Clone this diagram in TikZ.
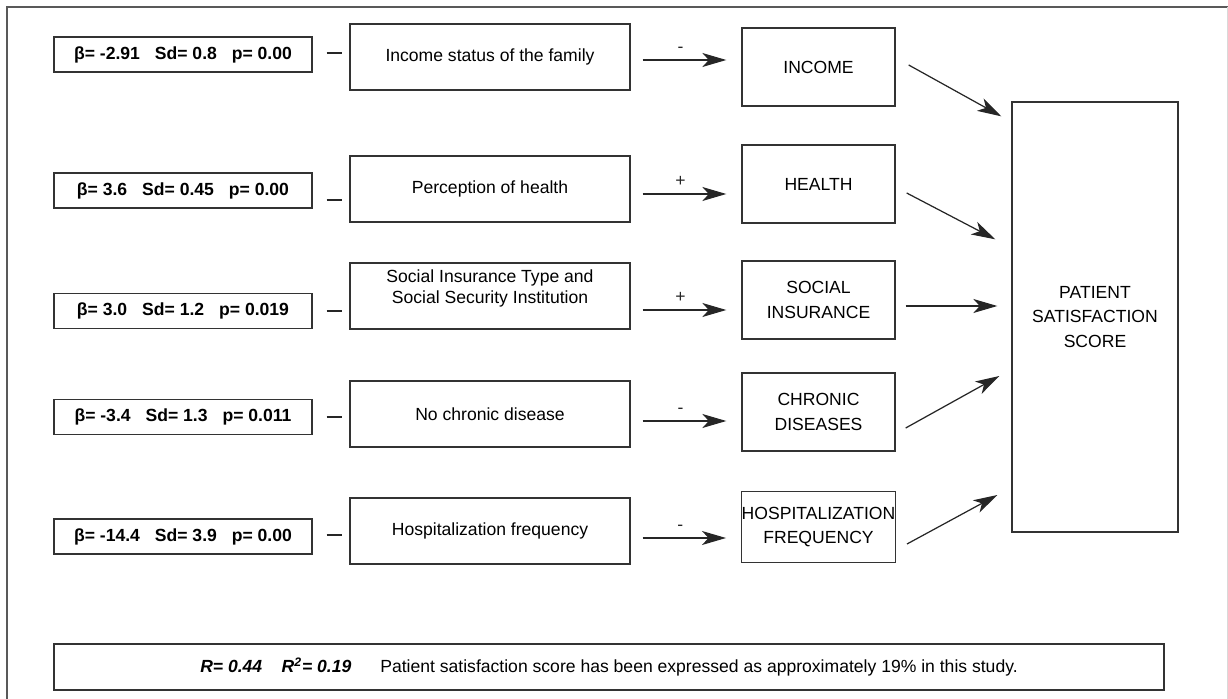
\documentclass[tikz,border=0pt]{standalone}
\usepackage{fontspec}
\setmainfont{Liberation Sans}
\usetikzlibrary{arrows.meta,calc}

\begin{document}
\begin{tikzpicture}[
  x=0.02cm, y=-0.02cm,
  every node/.style={font=\fontsize{10}{12}\selectfont},
  statbox/.style={rectangle, draw=black!80, line width=0.8pt, minimum width=5.16cm, minimum height=0.7cm, inner sep=0pt, font=\fontsize{10}{12}\selectfont\bfseries},
  factor/.style={rectangle, draw=black!80, line width=0.8pt, minimum width=5.6cm, minimum height=1.32cm, inner sep=0pt, align=center},
  varbox/.style={rectangle, draw=black!80, line width=0.8pt, minimum width=3.06cm, minimum height=1.56cm, inner sep=0pt, align=center, font=\fontsize{10}{14.2}\selectfont},
  arrow/.style={-{Stealth[length=0.48cm, width=0.28cm, inset=0.13cm]}, line width=0.7pt, black!85},
  link/.style={arrow, shorten <=0.24cm, shorten >=0.3cm},
  sign/.style={above=0.1cm, inner sep=1pt, pos=0.45},
  tick/.style={line width=0.6pt, black!85}
]
\useasboundingbox (0,0) rectangle (1228,699);

% Frame
\draw[black!65, line width=1pt] (7,699) -- (7,7) -- (1228,7);
\draw[black!15, line width=0.6pt] (1227.5,7) -- (1227.5,699);

% Coefficients
\node[statbox] (s1) at (183,54.5) {β= -2.91\hspace{0.85em}Sd= 0.8\hspace{0.85em}p= 0.00};
\node[statbox] (s2) at (183,190.5) {β= 3.6\hspace{0.85em}Sd= 0.45\hspace{0.85em}p= 0.00};
\node[statbox] (s3) at (183,311) {β= 3.0\hspace{0.85em}Sd= 1.2\hspace{0.85em}p= 0.019};
\node[statbox] (s4) at (183,417) {β= -3.4\hspace{0.85em}Sd= 1.3\hspace{0.85em}p= 0.011};
\node[statbox] (s5) at (183,536.5) {β= -14.4\hspace{0.85em}Sd= 3.9\hspace{0.85em}p= 0.00};

% Factors
\node[factor] (f1) at (490,57) {Income status of the family};
\node[factor] (f2) at (490,189) {Perception of health};
\node[factor] (f3) at (490,296) {};
\node[align=center] (f3text) at ($(f3)+(0,-8)$) {Social Insurance Type and\\Social Security Institution};
\node[factor] (f4) at (490,414) {No chronic disease};
\node[factor] (f5) at (490,531) {Hospitalization frequency};

% Variables
\node[varbox] (v1) at (818.5,67) {INCOME};
\node[varbox] (v2) at (818.5,184) {HEALTH};
\node[varbox] (v3) at (818.5,300) {SOCIAL\\INSURANCE};
\node[varbox] (v4) at (818.5,412) {CHRONIC\\DISEASES};
\node[varbox, minimum height=1.42cm] (v5) at (818.5,527) {HOSPITALIZATION\\FREQUENCY};

% Outcome
\node[varbox, minimum width=3.32cm, minimum height=8.6cm] (pss) at (1095,317) {PATIENT\\SATISFACTION\\SCORE};

% Summary
\node[rectangle, draw=black!80, line width=0.8pt, minimum width=22.2cm, minimum height=0.92cm, inner sep=0pt] (summary) at (609,667)
  {{\bfseries\itshape R= 0.44}\hspace{1.1em}{\bfseries\itshape R\textsuperscript{2}= 0.19}\hspace{1.65em}Patient satisfaction score has been expressed as approximately 19\% in this study.};

% Dashes
\draw[tick] ($(s1.east)+(14,-1.5)$) -- ++(15,0);
\draw[tick] ($(s2.east)+(14,9.5)$) -- ++(15,0);
\draw[tick] ($(s3.east)+(14,0)$) -- ++(15,0);
\draw[tick] ($(s4.east)+(14,0)$) -- ++(15,0);
\draw[tick] ($(s5.east)+(14,-1.5)$) -- ++(15,0);

% Arrows
\coordinate (r1) at (0,60);
\coordinate (r2) at (0,194);
\coordinate (r3) at (0,310);
\coordinate (r4) at (0,421);
\coordinate (r5) at (0,538);
\draw[link] (f1.east |- r1) -- node[sign] {-} (v1.west |- r1);
\draw[link] (f2.east |- r2) -- node[sign] {+} (v2.west |- r2);
\draw[link] (f3.east |- r3) -- node[sign] {+} (v3.west |- r3);
\draw[link] (f4.east |- r4) -- node[sign] {-} (v4.west |- r4);
\draw[link] (f5.east |- r5) -- node[sign] {-} (v5.west |- r5);

\draw[arrow] ($(v1.east)+(13,-2)$) -- ($(pss.north west)+(-10,15)$);
\draw[arrow] ($(v2.east)+(11,9)$) -- ($(pss.north west)+(-16,138)$);
\draw[arrow] ($(v3.east)+(10,6)$) -- ($(pss.west)+(-14,-11)$);
\draw[arrow] ($(v4.east)+(10,16)$) -- ($(pss.west)+(-12,59)$);
\draw[arrow] ($(v5.east)+(11,17)$) -- ($(pss.west)+(-14,178)$);

\end{tikzpicture}
\end{document}
